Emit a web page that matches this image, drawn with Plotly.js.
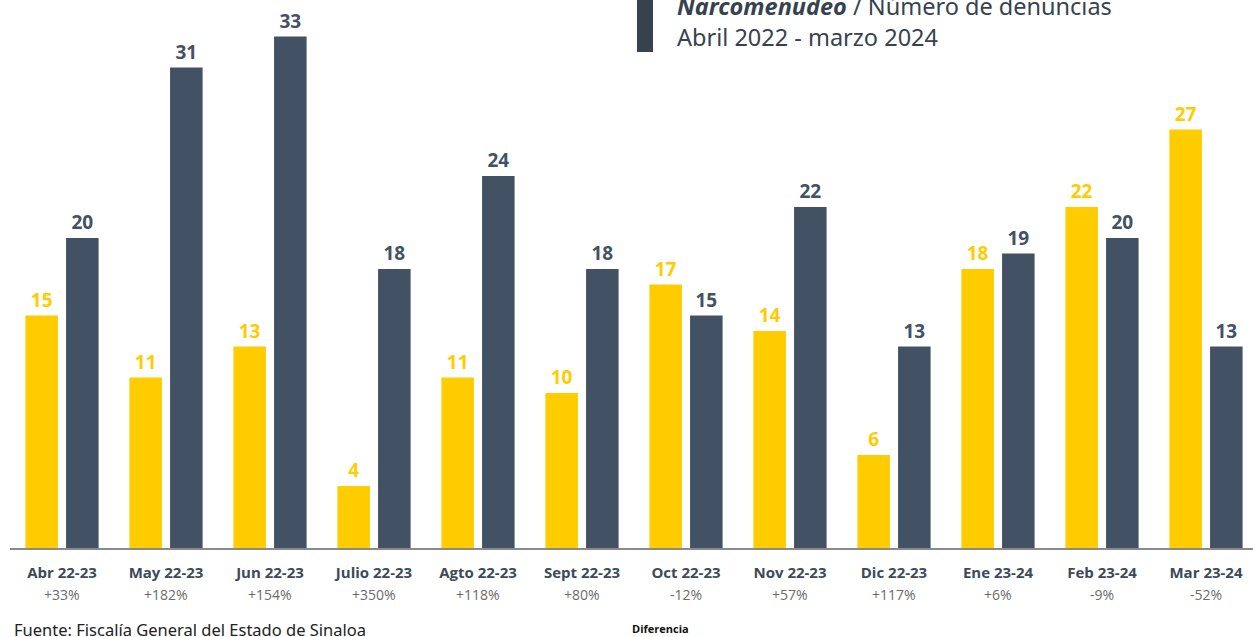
<!DOCTYPE html>
<html>
<head>
<meta charset="utf-8">
<script src="https://cdn.plot.ly/plotly-3.0.1.min.js"></script>
<style>
  html, body { margin: 0; padding: 0; background: #fff; }
  #chart { width: 1253px; height: 637px; }
</style>
</head>
<body>
<div id="chart"></div>
<script>
  // Denuncias de narcomenudeo por mes, periodo 22-23 contra 23-24
  const meses = ["Abr 22-23", "May 22-23", "Jun 22-23", "Julio 22-23", "Agto 22-23", "Sept 22-23",
                 "Oct 22-23", "Nov 22-23", "Dic 22-23", "Ene 23-24", "Feb 23-24", "Mar 23-24"];
  const periodoAnterior = [15, 11, 13, 4, 11, 10, 17, 14, 6, 18, 22, 27];
  const periodoActual = [20, 31, 33, 18, 24, 18, 15, 22, 13, 19, 20, 13];
  const diferencia = ["+33%", "+182%", "+154%", "+350%", "+118%", "+80%",
                      "-12%", "+57%", "+117%", "+6%", "-9%", "-52%"];

  const amarillo = "#ffcc00";
  const gris = "#425264";

  const trazaAnterior = {
    x: meses,
    y: periodoAnterior,
    type: "bar",
    marker: { color: amarillo },
    text: periodoAnterior.map(String),
    textposition: "outside",
    cliponaxis: false,
    textfont: { family: "Open Sans", size: 19, color: amarillo, weight: "bold" },
    hoverinfo: "x+y"
  };

  const trazaActual = {
    x: meses,
    y: periodoActual,
    type: "bar",
    marker: { color: gris },
    text: periodoActual.map(String),
    textposition: "outside",
    cliponaxis: false,
    textfont: { family: "Open Sans", size: 19, color: gris, weight: "bold" },
    hoverinfo: "x+y"
  };

  const notas = diferencia.map(function(d, i) {
    return {
      x: meses[i], xref: "x", y: 0, yref: "y", yshift: -46,
      text: d, showarrow: false,
      font: { family: "Open Sans", size: 14, color: "#6b6b6b" }
    };
  });

  notas.push({
    x: 0.002, xref: "paper", xanchor: "left",
    y: -0.152, yref: "paper", yanchor: "middle",
    text: "Fuente: Fiscalía General del Estado de Sinaloa",
    showarrow: false,
    font: { family: "Noto Sans", size: 16.5, color: "#222" }
  });
  notas.push({
    x: 0.523, xref: "paper", xanchor: "center",
    y: -0.149, yref: "paper", yanchor: "middle",
    text: "<b>Diferencia</b>",
    showarrow: false,
    font: { family: "Open Sans", size: 11, color: "#111" }
  });
  notas.push({
    x: 0.535, xref: "paper", xanchor: "left",
    y: 0.978, yref: "paper", yanchor: "middle",
    text: "<b><i>Narcomenudeo</i></b> / Número de denuncias<br>Abril 2022 - marzo 2024",
    align: "left",
    showarrow: false,
    font: { family: "Noto Sans", size: 23.5, color: "#36434f" }
  });

  const layout = {
    width: 1253,
    height: 637,
    margin: { l: 10, r: 0, t: 10, b: 89 },
    paper_bgcolor: "#fff",
    plot_bgcolor: "#fff",
    showlegend: false,
    barmode: "group",
    bargap: 0.218,
    bargroupgap: 0.2,
    xaxis: {
      range: [-0.5, 11.452],
      showline: true,
      linecolor: "#8a8a8a",
      linewidth: 2,
      ticks: "",
      ticklabelstandoff: 10,
      tickfont: { family: "Open Sans", size: 15, color: "#3d4a57", weight: "bold" },
      showgrid: false,
      zeroline: false
    },
    yaxis: {
      visible: false,
      range: [0, 34.71],
      showgrid: false,
      zeroline: false
    },
    shapes: [{
      type: "rect", xref: "paper", yref: "paper",
      x0: 0.5044, x1: 0.5173, y0: 0.922, y1: 1.05,
      fillcolor: "#36434f", line: { width: 0 }
    }],
    annotations: notas
  };

  Plotly.newPlot("chart", [trazaAnterior, trazaActual], layout, { displayModeBar: false });
</script>
</body>
</html>
